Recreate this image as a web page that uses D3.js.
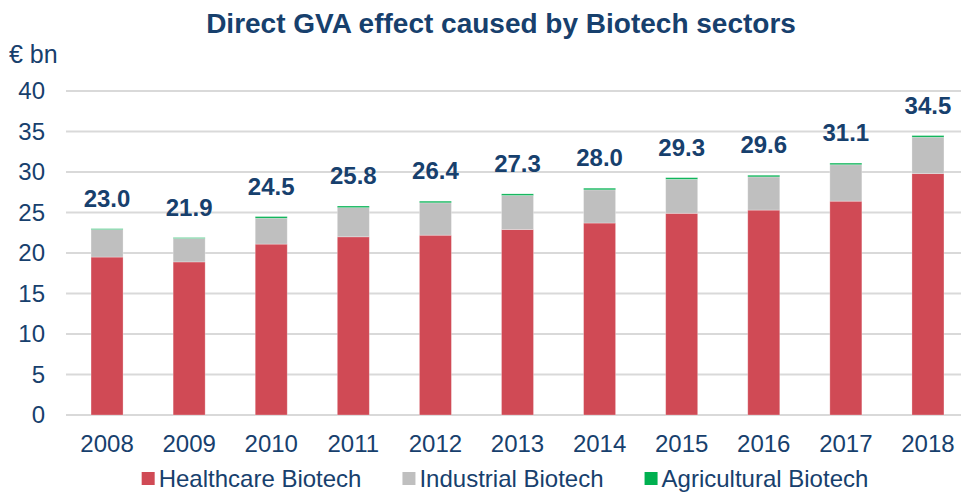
<!DOCTYPE html>
<html lang="en">
<head>
<meta charset="UTF-8">
<title>Direct GVA effect caused by Biotech sectors</title>
<script src="https://d3js.org/d3.v7.min.js"></script>
<style>
    body { margin: 0; background: #fff; }
    svg { display: block; font-family: "Liberation Sans", Arial, sans-serif; }
    .grid line { stroke: #d9d9d9; stroke-width: 2px; }
    .tick-label { fill: #17406d; font-size: 24px; }
    .value-label { fill: #17406d; font-size: 24px; font-weight: bold; }
</style>
</head>
<body>
<svg></svg>
<script>
    // data (€ bn)
    const years = ["2008", "2009", "2010", "2011", "2012", "2013", "2014", "2015", "2016", "2017", "2018"];
    const healthcare = [19.5, 18.9, 21.1, 22.0, 22.2, 22.9, 23.7, 24.9, 25.3, 26.4, 29.8];
    const industrial = [3.4, 2.9, 3.2, 3.6, 4.0, 4.2, 4.1, 4.2, 4.1, 4.5, 4.5];
    const agricultural = [0.1, 0.1, 0.2, 0.2, 0.2, 0.2, 0.2, 0.2, 0.2, 0.2, 0.2];
    const totals = [23.0, 21.9, 24.5, 25.8, 26.4, 27.3, 28.0, 29.3, 29.6, 31.1, 34.5];
    const yTicks = [0, 5, 10, 15, 20, 25, 30, 35, 40];

    const seriesNames = ["Healthcare Biotech", "Industrial Biotech", "Agricultural Biotech"];
    const colors = ["#d04a55", "#bfbfbf", "#00b050"];

    const W = 961, H = 494;
    const svg = d3.select("svg").attr("width", W).attr("height", H);

    const x = d3.scaleBand()
        .domain(years)
        .range([66, 969])
        .paddingInner(0.61)
        .paddingOuter(0.305);

    const y = d3.scaleLinear()
        .domain([0, 40])
        .range([415, 91]);

    // title
    svg.append("text")
        .attr("x", 501)
        .attr("y", 33)
        .attr("text-anchor", "middle")
        .style("font-size", "28px")
        .style("font-weight", "bold")
        .style("fill", "#17406d")
        .text("Direct GVA effect caused by Biotech sectors");

    // unit label
    svg.append("text")
        .attr("x", 9)
        .attr("y", 63)
        .style("font-size", "25px")
        .style("fill", "#17406d")
        .text("€ bn");

    // gridlines
    svg.append("g").attr("class", "grid")
        .selectAll("line")
        .data(yTicks)
        .join("line")
        .attr("x1", 66)
        .attr("x2", W)
        .attr("y1", d => y(d))
        .attr("y2", d => y(d));

    // y tick labels
    svg.append("g")
        .selectAll("text")
        .data(yTicks)
        .join("text")
        .attr("class", "tick-label")
        .attr("x", 45)
        .attr("y", d => y(d))
        .attr("dy", "0.35em")
        .attr("text-anchor", "end")
        .text(d => d);

    // stacked bars
    const rows = years.map((yr, i) => ({
        year: yr,
        h: healthcare[i],
        ind: industrial[i],
        ag: agricultural[i]
    }));
    const stack = d3.stack().keys(["h", "ind", "ag"])(rows);

    svg.append("g")
        .selectAll("g")
        .data(stack)
        .join("g")
        .attr("fill", (d, i) => colors[i])
        .selectAll("rect")
        .data(d => d)
        .join("rect")
        .attr("x", d => x(d.data.year))
        .attr("width", x.bandwidth())
        .attr("y", d => y(d[1]))
        .attr("height", d => y(d[0]) - y(d[1]))
        .attr("stroke", "#fff")
        .attr("stroke-opacity", 0.35)
        .attr("stroke-width", 0.8);

    // total labels
    svg.append("g")
        .selectAll("text")
        .data(years)
        .join("text")
        .attr("class", "value-label")
        .attr("x", d => x(d) + x.bandwidth() / 2)
        .attr("y", (d, i) => y(totals[i]) - 22)
        .attr("text-anchor", "middle")
        .text((d, i) => totals[i].toFixed(1));

    // x labels
    svg.append("g")
        .selectAll("text")
        .data(years)
        .join("text")
        .attr("class", "tick-label")
        .attr("x", d => x(d) + x.bandwidth() / 2)
        .attr("y", 452)
        .attr("text-anchor", "middle")
        .text(d => d);

    // legend
    const legend = svg.append("g");
    let lx = 0;
    seriesNames.forEach((name, i) => {
        const g = legend.append("g").attr("transform", `translate(${lx},0)`);
        g.append("rect")
            .attr("x", 0).attr("y", 472)
            .attr("width", 13).attr("height", 13)
            .attr("fill", colors[i]);
        const t = g.append("text")
            .attr("class", "tick-label")
            .attr("x", 17)
            .attr("y", 487)
            .text(name);
        lx += 17 + t.node().getComputedTextLength() + 41;
    });
    const legendW = lx - 41;
    legend.attr("transform", `translate(${505 - legendW / 2},0)`);
</script>
</body>
</html>
